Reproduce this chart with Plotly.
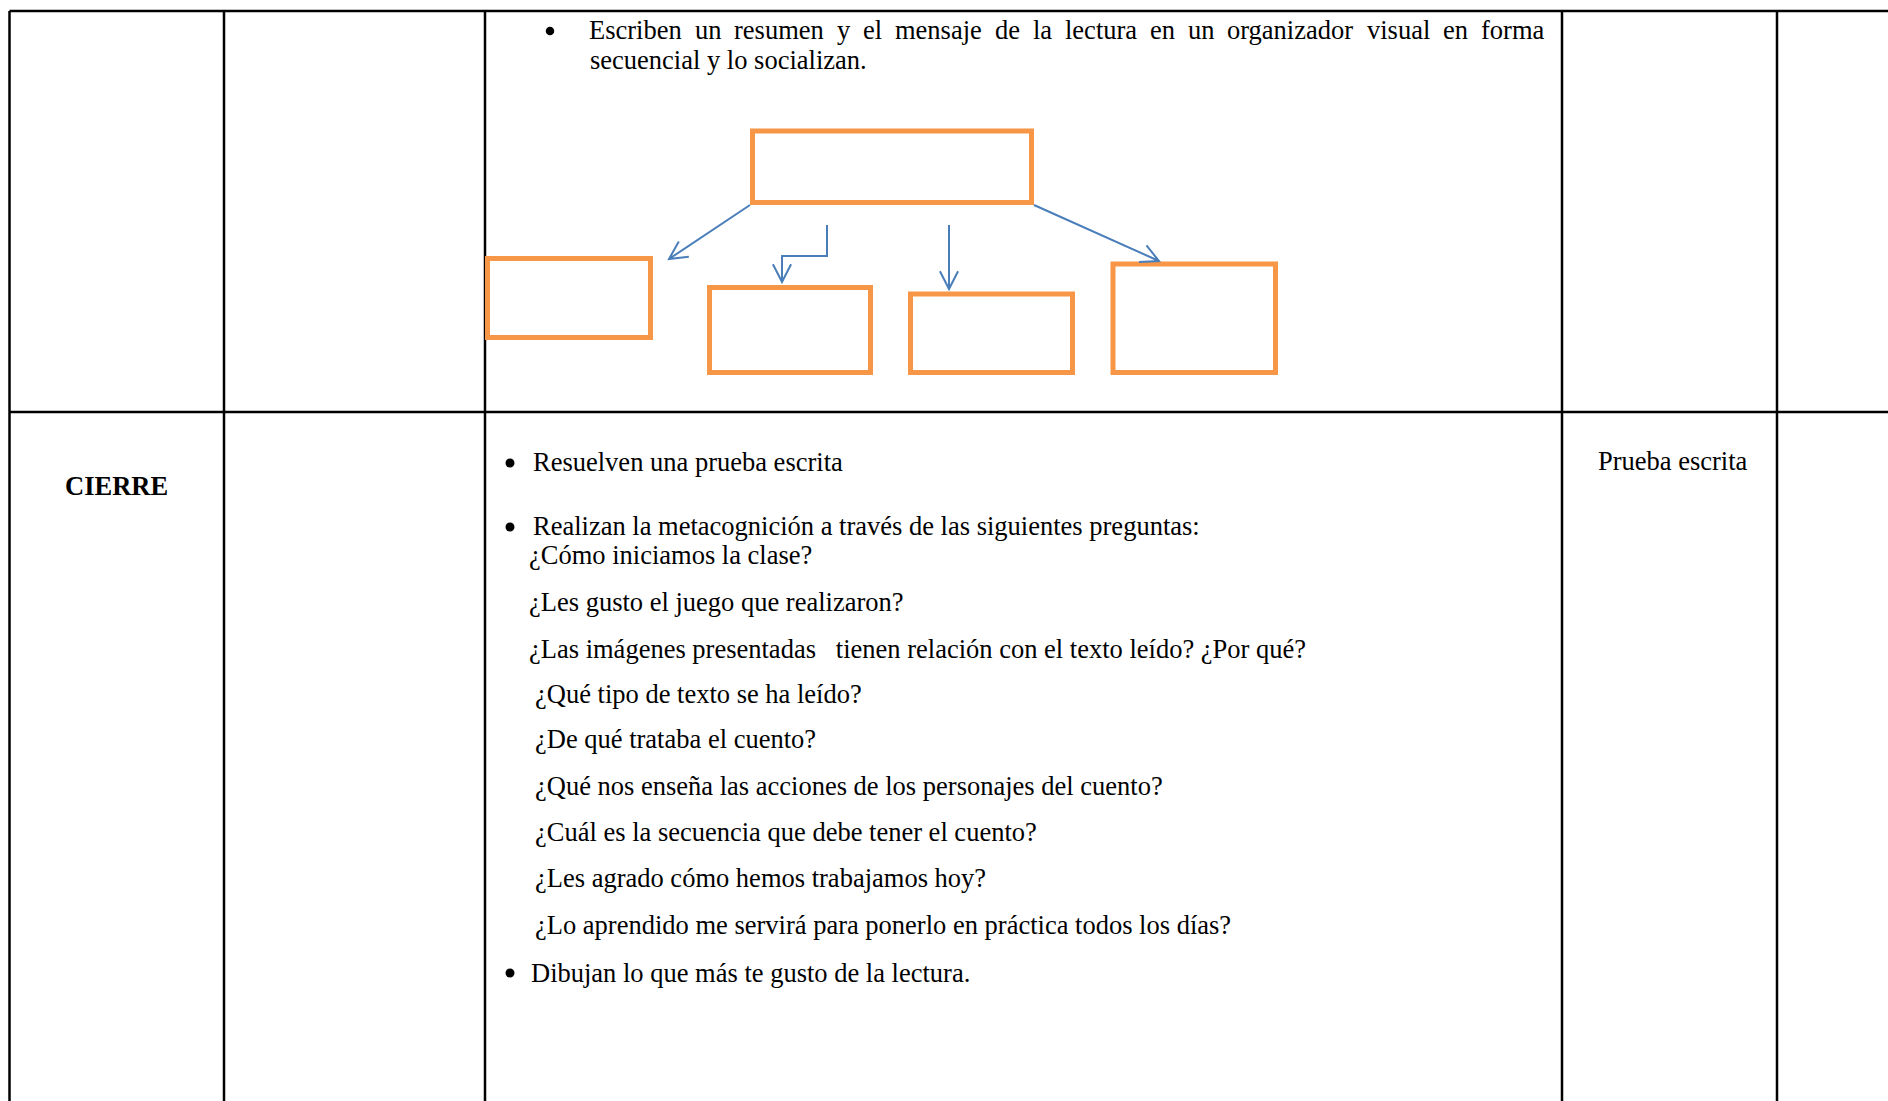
import math
import plotly.graph_objects as go

# ---------------- page / data ----------------
W, H = 1888, 1101
FONT = "Liberation Serif, Times New Roman, serif"
FS = 26.5
BLACK = "#000000"
ORANGE = "#F79646"
BLUE = "#4A7EBB"

# table grid
col_x = [9.5, 224, 485, 1562, 1777]
row_y = [11, 412]

# organizer boxes (x0, y0, x1, y1)
boxes = [
    (752.5, 131, 1031.5, 202.5),
    (487.5, 258.5, 650.5, 337.5),
    (709.5, 287.5, 870.5, 372.5),
    (910.5, 294, 1072.5, 372.5),
    (1113, 264, 1275.5, 372.5),
]

# organizer arrows (polylines, head at the last point)
arrows = [
    [(750, 205), (669, 259)],
    [(827, 225), (827, 256), (782, 256), (782, 282)],
    [(949, 225), (949, 289)],
    [(1034, 205), (1159, 261)],
]

# first row text (justified line + second line)
row1_line1 = "Escriben un resumen y el mensaje de la lectura en un organizador visual en forma"
row1_line1_span = (589, 1544, 30)
row1_line2 = ("secuencial y lo socializan.", 590, 60)

# bullet dots (centre x, centre y, diameter)
bullets = [(550, 31, 8.5), (510, 463, 9), (510, 527, 9), (510, 973, 9)]

# second row text
cierre = ("CIERRE", 116, 486)
prueba = ("Prueba escrita", 1673, 461)
lines = [
    ("Resuelven una prueba escrita", 533, 462),
    ("Realizan la metacognición a través de las siguientes preguntas:", 533, 526),
    ("¿Cómo iniciamos la clase?", 529, 555),
    ("¿Les gusto el juego que realizaron?", 529, 602),
    ("¿Las imágenes presentadas\u00a0\u00a0\u00a0tienen relación con el texto leído? ¿Por qué?", 529, 649),
    ("¿Qué tipo de texto se ha leído?", 535, 694),
    ("¿De qué trataba el cuento?", 535, 739),
    ("¿Qué nos enseña las acciones de los personajes del cuento?", 535, 786),
    ("¿Cuál es la secuencia que debe tener el cuento?", 535, 832),
    ("¿Les agrado cómo hemos trabajamos hoy?", 535, 878),
    ("¿Lo aprendido me servirá para ponerlo en práctica todos los días?", 535, 925),
    ("Dibujan lo que más te gusto de la lectura.", 531, 973),
]

# Times-compatible advance widths (per 1000 em) for justification
TW = {"E": 611, "s": 389, "c": 444, "r": 333, "i": 278, "b": 500, "e": 444,
      "n": 500, "u": 500, "m": 778, "y": 500, "l": 278, "a": 444, "j": 278,
      "d": 500, "t": 278, "o": 500, "g": 500, "z": 444, "v": 500, "f": 333}

# ---------------- figure ----------------
fig = go.Figure()
shapes = []
annotations = []

# grid lines
for x in col_x:
    shapes.append(dict(type="line", x0=x, x1=x, y0=row_y[0], y1=H + 5,
                       line=dict(color=BLACK, width=2.5)))
for y in row_y:
    shapes.append(dict(type="line", x0=col_x[0], x1=W + 5, y0=y, y1=y,
                       line=dict(color=BLACK, width=2.5)))

# boxes
for (x0, y0, x1, y1) in boxes:
    shapes.append(dict(type="rect", x0=x0, x1=x1, y0=y0, y1=y1,
                       line=dict(color=ORANGE, width=5), fillcolor="rgba(0,0,0,0)"))

# arrows
HEAD_L, HEAD_A = 20, math.radians(27)
for pts in arrows:
    path = "M " + " L ".join(f"{px},{py}" for px, py in pts)
    (xa, ya), (xb, yb) = pts[-2], pts[-1]
    ang = math.atan2(yb - ya, xb - xa)
    w1 = (xb - HEAD_L * math.cos(ang - HEAD_A), yb - HEAD_L * math.sin(ang - HEAD_A))
    w2 = (xb - HEAD_L * math.cos(ang + HEAD_A), yb - HEAD_L * math.sin(ang + HEAD_A))
    path += f" M {w1[0]},{w1[1]} L {xb},{yb} L {w2[0]},{w2[1]}"
    shapes.append(dict(type="path", path=path, line=dict(color=BLUE, width=2)))

# bullet dots
for bx, by, bd in bullets:
    r = bd / 2
    shapes.append(dict(type="circle", x0=bx - r, x1=bx + r, y0=by - r, y1=by + r,
                       fillcolor=BLACK, line=dict(width=0)))


def txt(text, x, y, xanchor="left", size=FS):
    annotations.append(dict(text=text, x=x, y=y, xref="x", yref="y",
                            xanchor=xanchor, yanchor="middle", showarrow=False,
                            borderpad=0, borderwidth=0,
                            font=dict(family=FONT, size=size, color=BLACK)))


# justified first line
words = row1_line1.split(" ")
wwidths = [sum(TW[ch] for ch in w) / 1000 * FS for w in words]
x_start, x_end, y_l1 = row1_line1_span
gap = (x_end - x_start - sum(wwidths)) / (len(words) - 1)
cx = x_start
for w, ww in zip(words, wwidths):
    txt(w, cx, y_l1)
    cx += ww + gap
txt(row1_line2[0], row1_line2[1], row1_line2[2])

txt("<b>" + cierre[0] + "</b>", cierre[1], cierre[2], xanchor="center")
txt(prueba[0], prueba[1], prueba[2], xanchor="center")
for t, x, y in lines:
    txt(t, x, y)

fig.update_layout(
    width=W, height=H, autosize=False,
    margin=dict(l=0, r=0, t=0, b=0, pad=0),
    paper_bgcolor="white", plot_bgcolor="white",
    xaxis=dict(range=[0, W], visible=False, fixedrange=True),
    yaxis=dict(range=[H, 0], visible=False, fixedrange=True),
    shapes=shapes, annotations=annotations, showlegend=False,
)

fig.write_html("out.html", config={"displayModeBar": False, "staticPlot": True},
               post_script="document.body.style.margin='0';document.body.style.overflow='hidden';")
